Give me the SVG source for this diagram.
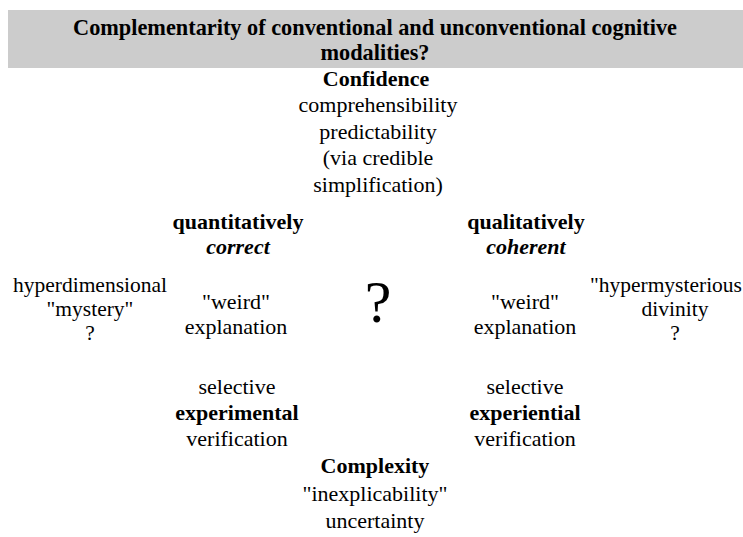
<svg xmlns="http://www.w3.org/2000/svg" width="743" height="537" viewBox="0 0 743 537">
<style>
text{font-family:"Liberation Serif","Tinos","Times New Roman",Times,serif;font-size:22px;fill:#000;text-anchor:middle}
.b{font-weight:bold}
.bi{font-weight:bold;font-style:italic}
.t{font-weight:bold;font-size:22.3px}
.s{font-size:21.5px}
</style>
<rect width="743" height="537" fill="#fff"/>
<g id="title">
<rect x="8" y="10" width="735" height="58" fill="#cccccc"/>
<text class="t" x="375" y="35">Complementarity of conventional and unconventional cognitive</text>
<text class="t" x="375" y="60">modalities?</text>
</g>
<g id="confidence">
<text class="b" x="376" y="86">Confidence</text>
<text x="378" y="112">comprehensibility</text>
<text x="378" y="139">predictability</text>
<text x="378" y="165">(via credible</text>
<text x="378" y="192">simplification)</text>
</g>
<g id="quantitatively">
<text class="b" x="238" y="229">quantitatively</text>
<text class="bi" x="238" y="254">correct</text>
</g>
<g id="qualitatively">
<text class="b" x="526" y="229">qualitatively</text>
<text class="bi" x="526" y="254">coherent</text>
</g>
<g id="hyperdimensional">
<text class="s" x="90" y="292">hyperdimensional</text>
<text class="s" x="90" y="316">"mystery"</text>
<text class="s" x="90" y="340">?</text>
</g>
<g id="weird-left">
<text x="236" y="309">"weird"</text>
<text x="236" y="334">explanation</text>
</g>
<g id="center">
<text x="378" y="322" style="font-size:60px">?</text>
</g>
<g id="weird-right">
<text x="525" y="309">"weird"</text>
<text x="525" y="334">explanation</text>
</g>
<g id="hypermysterious">
<text class="s" x="742" y="292" style="text-anchor:end">"hypermysterious</text>
<text class="s" x="675" y="316">divinity</text>
<text class="s" x="675" y="340">?</text>
</g>
<g id="experimental">
<text x="237" y="394">selective</text>
<text class="b" x="237" y="420">experimental</text>
<text x="237" y="446">verification</text>
</g>
<g id="experiential">
<text x="525" y="394">selective</text>
<text class="b" x="525" y="420">experiential</text>
<text x="525" y="446">verification</text>
</g>
<g id="complexity">
<text class="b" x="375" y="473">Complexity</text>
<text x="375" y="501">"inexplicability"</text>
<text x="375" y="528">uncertainty</text>
</g>
<g id="connectors"></g>
</svg>
